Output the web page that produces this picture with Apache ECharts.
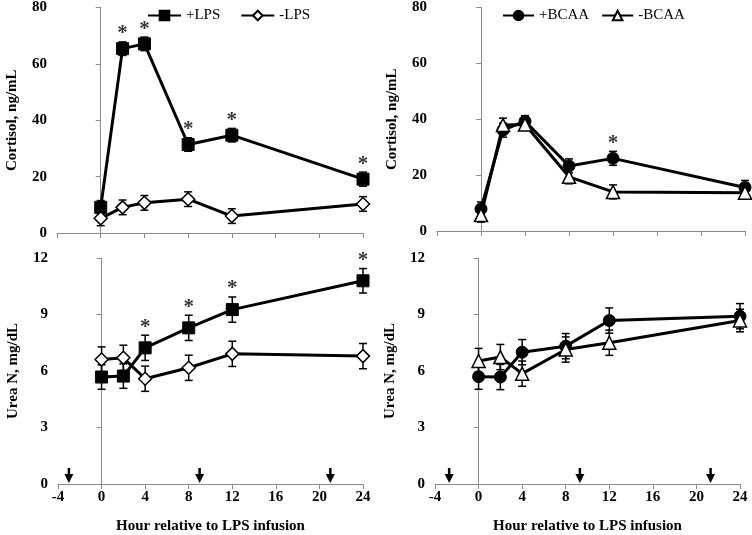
<!DOCTYPE html>
<html>
<head>
<meta charset="utf-8">
<script src="https://cdn.jsdelivr.net/npm/echarts@6/dist/echarts.min.js"></script>
<style>
  html, body { margin: 0; padding: 0; background: #fff; }
  #main { width: 752px; height: 535px; }
</style>
</head>
<body>
<div id="main"></div>
<script>
// sampling hours
var hours = [0, 2, 4, 8, 12, 24];

// cortisol, ng/mL
var cortLps = [9.1, 65.4, 67.1, 31.4, 34.7, 19.1];
var cortLpsErr = [2.4, 2.4, 2.4, 2.4, 2.4, 2.5];
var cortNoLps = [5.2, 9.1, 10.7, 12.0, 6.0, 10.3];
var cortNoLpsErr = [2.6, 2.6, 2.6, 2.6, 2.6, 2.6];
var cortBcaa = [7.9, 36.1, 39.3, 23.3, 26.0, 15.6];
var cortBcaaErr = [2.5, 2.5, 2.0, 2.5, 2.5, 2.5];
var cortNoBcaa = [5.7, 37.9, 38.1, 19.4, 14.0, 13.7];
var cortNoBcaaErr = [2.5, 2.5, 2.0, 2.5, 2.5, 2.3];

// urea N, mg/dL
var ureaLps = [5.68, 5.73, 7.23, 8.29, 9.26, 10.79];
var ureaLpsErr = [0.65, 0.65, 0.67, 0.67, 0.67, 0.65];
var ureaNoLps = [6.61, 6.70, 5.59, 6.17, 6.91, 6.79];
var ureaNoLpsErr = [0.67, 0.67, 0.67, 0.67, 0.67, 0.67];
var ureaBcaa = [5.70, 5.68, 7.00, 7.32, 8.68, 8.91];
var ureaBcaaErr = [0.67, 0.67, 0.67, 0.67, 0.67, 0.67];
var ureaNoBcaa = [6.53, 6.74, 5.86, 7.14, 7.50, 8.68];
var ureaNoBcaaErr = [0.67, 0.67, 0.67, 0.67, 0.67, 0.6];

// hours marked with * (significant)
var starCortLps = [2, 4, 8, 12, 24];
var starCortBcaa = [12];
var starUreaLps = [4, 8, 12, 24];

// arrows along the x axis (hours)
var arrowsLeft = [-3, 9, 21];
var arrowsRight = [-2.7, 9.3, 21.3];

var xTicks = { min: -4, max: 24, interval: 4 };

window.onload = function() {
  var chart = echarts.init(document.getElementById('main'));
  var axisGray = '#8a8a8a';
  var serif = '"Liberation Serif", "DejaVu Serif", serif';

  function pairs(vals) {
    return hours.map(function(h, i) { return [h, vals[i]]; });
  }

  function lineSeries(name, vals, symbol, size, filled, idx) {
    return {
      type: 'line', name: name, data: pairs(vals),
      xAxisIndex: idx, yAxisIndex: idx,
      symbol: symbol, symbolSize: size, z: 3,
      lineStyle: { color: '#000', width: 3 },
      itemStyle: filled
        ? { color: '#000', borderColor: '#000', borderWidth: 1 }
        : { color: '#fff', borderColor: '#000', borderWidth: 1.5 },
      emphasis: { disabled: true },
      animation: false
    };
  }

  function errSeries(vals, errs, idx) {
    var d = hours.map(function(h, i) { return [h, vals[i] - errs[i], vals[i] + errs[i]]; });
    return {
      type: 'custom', xAxisIndex: idx, yAxisIndex: idx, z: 2,
      data: d, encode: { x: 0, y: [1, 2] }, silent: true,
      renderItem: function(params, api) {
        var top = api.coord([api.value(0), api.value(2)]);
        var bot = api.coord([api.value(0), api.value(1)]);
        var w = 4;
        var st = { stroke: '#000', lineWidth: 1.5 };
        return {
          type: 'group',
          children: [
            { type: 'line', shape: { x1: top[0], y1: top[1], x2: bot[0], y2: bot[1] }, style: st },
            { type: 'line', shape: { x1: top[0] - w, y1: top[1], x2: top[0] + w, y2: top[1] }, style: st },
            { type: 'line', shape: { x1: bot[0] - w, y1: bot[1], x2: bot[0] + w, y2: bot[1] }, style: st }
          ]
        };
      }
    };
  }

  function starSeries(starHours, vals, errs, idx) {
    var d = starHours.map(function(h) {
      var i = hours.indexOf(h);
      return [h, vals[i] + errs[i]];
    });
    return {
      type: 'scatter', xAxisIndex: idx, yAxisIndex: idx, data: d,
      symbolSize: 1, itemStyle: { color: 'rgba(0,0,0,0)' }, silent: true,
      label: {
        show: true, position: 'top', distance: -3, formatter: '*',
        fontFamily: serif, fontWeight: 'bold', fontSize: 21, color: '#000'
      }
    };
  }

  function arrowSeries(xs, idx) {
    return {
      type: 'custom', xAxisIndex: idx, yAxisIndex: idx, z: 4, silent: true,
      data: xs.map(function(x) { return [x, 0]; }),
      renderItem: function(params, api) {
        var p = api.coord([api.value(0), 0]);
        var tipY = p[1] - 1, topY = p[1] - 16, headH = 9, headW = 4.5;
        return {
          type: 'group',
          children: [
            { type: 'line', shape: { x1: p[0], y1: topY, x2: p[0], y2: tipY - headH + 1 },
              style: { stroke: '#000', lineWidth: 2.5 } },
            { type: 'polygon', shape: { points: [[p[0] - headW, tipY - headH], [p[0] + headW, tipY - headH], [p[0], tipY]] },
              style: { fill: '#000' } }
          ]
        };
      }
    };
  }

  var labelStyle = { fontFamily: serif, fontWeight: 'bold', fontSize: 15, color: '#000' };
  var nameStyle = { fontFamily: serif, fontWeight: 'bold', fontSize: 15, color: '#000' };

  function xAxis(idx, showLabels) {
    return {
      type: 'value', gridIndex: idx, min: xTicks.min, max: xTicks.max, interval: xTicks.interval,
      axisLine: { lineStyle: { color: axisGray, width: 1 } },
      axisTick: { show: true, length: 5, lineStyle: { color: axisGray } },
      axisLabel: Object.assign({ show: showLabels, margin: 6 }, labelStyle),
      splitLine: { show: false },
      name: showLabels ? 'Hour relative to LPS infusion' : '',
      nameLocation: 'middle', nameGap: 35, nameTextStyle: nameStyle
    };
  }

  function yAxis(idx, max, interval, name) {
    return {
      type: 'value', gridIndex: idx, min: 0, max: max, interval: interval,
      axisLine: { show: true, lineStyle: { color: axisGray, width: 1 } },
      axisTick: { show: true, length: 5, lineStyle: { color: axisGray } },
      axisLabel: Object.assign({ margin: 10 }, labelStyle),
      splitLine: { show: false },
      name: name, nameLocation: 'middle', nameRotate: 90, nameGap: 37,
      nameTextStyle: nameStyle
    };
  }

  var legendText = { fontFamily: serif, fontSize: 15, color: '#000' };

  var option = {
    backgroundColor: '#fff',
    animation: false,
    grid: [
      { left: 57, top: 7, width: 306, height: 226 },
      { left: 437, top: 7, width: 308, height: 224 },
      { left: 58, top: 258, width: 305, height: 227 },
      { left: 435, top: 258, width: 305, height: 227 }
    ],
    legend: [
      { data: ['+LPS', '-LPS'], left: 142, top: 3, itemWidth: 33, itemHeight: 12, itemGap: 20,
        textStyle: legendText, selectedMode: false },
      { data: ['+BCAA', '-BCAA'], left: 497, top: 3, itemWidth: 31, itemHeight: 12, itemGap: 12,
        textStyle: legendText, selectedMode: false }
    ],
    xAxis: [xAxis(0, false), xAxis(1, false), xAxis(2, true), xAxis(3, true)],
    yAxis: [
      yAxis(0, 80, 20, 'Cortisol, ng/mL'),
      yAxis(1, 80, 20, 'Cortisol, ng/mL'),
      yAxis(2, 12, 3, 'Urea N, mg/dL'),
      yAxis(3, 12, 3, 'Urea N, mg/dL')
    ],
    series: [
      errSeries(cortLps, cortLpsErr, 0),
      errSeries(cortNoLps, cortNoLpsErr, 0),
      lineSeries('+LPS', cortLps, 'rect', 12, true, 0),
      lineSeries('-LPS', cortNoLps, 'diamond', 13, false, 0),
      starSeries(starCortLps, cortLps, cortLpsErr, 0),

      errSeries(cortBcaa, cortBcaaErr, 1),
      errSeries(cortNoBcaa, cortNoBcaaErr, 1),
      lineSeries('+BCAA', cortBcaa, 'circle', 12, true, 1),
      lineSeries('-BCAA', cortNoBcaa, 'triangle', 13, false, 1),
      starSeries(starCortBcaa, cortBcaa, cortBcaaErr, 1),

      errSeries(ureaLps, ureaLpsErr, 2),
      errSeries(ureaNoLps, ureaNoLpsErr, 2),
      lineSeries('+LPS', ureaLps, 'rect', 12, true, 2),
      lineSeries('-LPS', ureaNoLps, 'diamond', 13, false, 2),
      starSeries(starUreaLps, ureaLps, ureaLpsErr, 2),
      arrowSeries(arrowsLeft, 2),

      errSeries(ureaBcaa, ureaBcaaErr, 3),
      errSeries(ureaNoBcaa, ureaNoBcaaErr, 3),
      lineSeries('+BCAA', ureaBcaa, 'circle', 12, true, 3),
      lineSeries('-BCAA', ureaNoBcaa, 'triangle', 13, false, 3),
      arrowSeries(arrowsRight, 3)
    ]
  };
  chart.setOption(option);
};
</script>
</body>
</html>
